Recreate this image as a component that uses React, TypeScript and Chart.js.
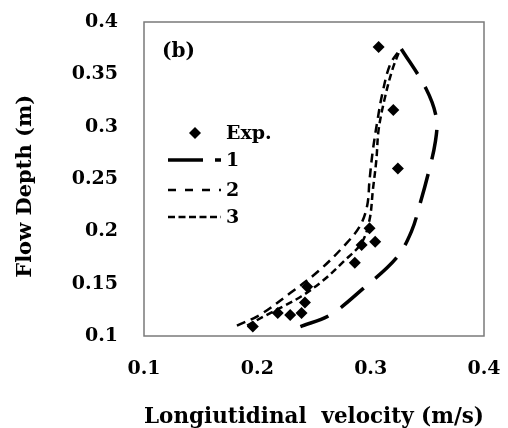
import { useEffect, useRef } from "react";
import { Chart, registerables } from "chart.js";

Chart.register(...registerables);

// ---- data ----
const expVelocity = [0.307, 0.32, 0.324, 0.299, 0.304, 0.292, 0.286, 0.244, 0.242, 0.239, 0.229, 0.218, 0.196];
const expDepth = [0.376, 0.316, 0.26, 0.203, 0.19, 0.187, 0.17, 0.147, 0.132, 0.122, 0.12, 0.122, 0.109];

const model1Velocity = [0.238, 0.264, 0.293, 0.323, 0.336, 0.344, 0.351, 0.357, 0.358, 0.349, 0.326];
const model1Depth = [0.109, 0.12, 0.145, 0.175, 0.2, 0.228, 0.256, 0.285, 0.308, 0.336, 0.376];

const model2Velocity = [0.182, 0.202, 0.229, 0.255, 0.279, 0.291, 0.297, 0.299, 0.302, 0.306, 0.31, 0.317, 0.326];
const model2Depth = [0.11, 0.12, 0.141, 0.163, 0.189, 0.206, 0.225, 0.249, 0.278, 0.306, 0.33, 0.359, 0.374];

const model3Velocity = [0.191, 0.208, 0.224, 0.239, 0.258, 0.276, 0.292, 0.299, 0.302, 0.305, 0.307, 0.312, 0.319, 0.326];
const model3Depth = [0.11, 0.12, 0.129, 0.138, 0.153, 0.171, 0.189, 0.211, 0.24, 0.268, 0.297, 0.325, 0.354, 0.374];

const xTicks = [0.1, 0.2, 0.3, 0.4];
const yTicks = [0.1, 0.15, 0.2, 0.25, 0.3, 0.35, 0.4];
const seriesLabels = ["Exp.", "1", "2", "3"];
const panelLabel = "(b)";
const xTitle = "Longiutidinal  velocity (m/s)";
const yTitle = "Flow Depth (m)  ";

const FONT = "'DejaVu Serif', serif";

const pts = (xs: number[], ys: number[]) => xs.map((x, i) => ({ x, y: ys[i] }));
const fmt = (v: number) => String(Number(v.toFixed(2)));

const framePlugin = {
  id: "frame",
  beforeDatasetsDraw(chart: any) {
    const { ctx, chartArea: a } = chart;
    ctx.save();
    ctx.strokeStyle = "#7a7a7a";
    ctx.lineWidth = 1.5;
    ctx.strokeRect(a.left, a.top, a.right - a.left, a.bottom - a.top);
    ctx.restore();
  },
};

const legendPlugin = {
  id: "insideLegend",
  afterDraw(chart: any) {
    const { ctx, chartArea: a } = chart;
    const ds = chart.data.datasets;
    ctx.save();
    ctx.fillStyle = "#000";
    ctx.font = `bold 20px ${FONT}`;
    ctx.textBaseline = "middle";
    ctx.textAlign = "left";
    ctx.fillText(panelLabel, a.left + 18, a.top + 30);

    ctx.font = `bold 19px ${FONT}`;
    const x0 = a.left + 24;
    const x1 = a.left + 77;
    const tx = a.left + 82;
    const ey = a.top + 111;
    const cx = a.left + 51;
    const r = 6;
    ctx.beginPath();
    ctx.moveTo(cx, ey - r);
    ctx.lineTo(cx + r, ey);
    ctx.lineTo(cx, ey + r);
    ctx.lineTo(cx - r, ey);
    ctx.closePath();
    ctx.fill();
    ctx.fillText(ds[0].label, tx, ey + 1);
    const rows = [a.top + 138, a.top + 168, a.top + 195];
    for (let i = 1; i < 4; i++) {
      const y = rows[i - 1];
      ctx.beginPath();
      ctx.setLineDash(ds[i].legendDash);
      ctx.lineWidth = ds[i].borderWidth;
      ctx.strokeStyle = "#000";
      ctx.moveTo(x0, y);
      ctx.lineTo(x1, y);
      ctx.stroke();
      ctx.setLineDash([]);
      ctx.fillText(ds[i].label, tx, y + 1);
    }
    ctx.restore();
  },
};

export default function App() {
  const ref = useRef<HTMLCanvasElement | null>(null);
  useEffect(() => {
    if (!ref.current) return;
    const chart = new Chart(ref.current, {
      type: "scatter",
      data: {
        datasets: [
          {
            label: seriesLabels[0],
            data: pts(expVelocity, expDepth),
            showLine: false,
            pointStyle: "rectRot",
            pointRadius: 6,
            backgroundColor: "#000",
            borderColor: "#000",
            borderWidth: 0,
            order: 0,
          } as any,
          {
            label: seriesLabels[1],
            data: pts(model1Velocity, model1Depth),
            showLine: true,
            pointRadius: 0,
            borderColor: "#000",
            borderWidth: 3.5,
            borderDash: [30, 15],
            legendDash: [35, 12],
            tension: 0.35,
            order: 1,
          } as any,
          {
            label: seriesLabels[2],
            data: pts(model2Velocity, model2Depth),
            showLine: true,
            pointRadius: 0,
            borderColor: "#000",
            borderWidth: 2.5,
            borderDash: [9, 6],
            legendDash: [8, 9],
            tension: 0.35,
            order: 2,
          } as any,
          {
            label: seriesLabels[3],
            data: pts(model3Velocity, model3Depth),
            showLine: true,
            pointRadius: 0,
            borderColor: "#000",
            borderWidth: 2.5,
            borderDash: [7, 4],
            legendDash: [7, 3.5],
            tension: 0.35,
            order: 3,
          } as any,
        ],
      },
      options: {
        responsive: false,
        animation: false,
        layout: { padding: { left: 0, right: 24, top: 22, bottom: 0 } },
        plugins: {
          legend: { display: false },
          tooltip: { enabled: false },
        },
        scales: {
          x: {
            type: "linear",
            min: 0.1,
            max: 0.4,
            afterBuildTicks: (s: any) => {
              s.ticks = xTicks.map((v) => ({ value: v }));
            },
            afterFit: (s: any) => {
              s.height = 92;
              s.paddingLeft = 0;
              s.paddingRight = 0;
            },
            grid: { display: false, drawTicks: false },
            border: { display: false },
            ticks: {
              color: "#000",
              padding: 22,
              maxRotation: 0,
              font: { family: FONT, size: 19, weight: "bold" },
              callback: (v: any) => fmt(Number(v)),
            },
            title: {
              display: true,
              text: xTitle,
              color: "#000",
              padding: { top: 0, bottom: -3 },
              font: { family: FONT, size: 23, weight: "bold" },
            },
          },
          y: {
            type: "linear",
            min: 0.1,
            max: 0.4,
            afterBuildTicks: (s: any) => {
              s.ticks = yTicks.map((v) => ({ value: v }));
            },
            afterFit: (s: any) => {
              s.width = 144;
              s.paddingTop = 0;
              s.paddingBottom = 0;
            },
            grid: { display: false, drawTicks: false },
            border: { display: false },
            ticks: {
              color: "#000",
              padding: 26,
              font: { family: FONT, size: 19, weight: "bold" },
              callback: (v: any) => fmt(Number(v)),
            },
            title: {
              display: true,
              text: yTitle,
              color: "#000",
              padding: { top: 13, bottom: 0 },
              font: { family: FONT, size: 21, weight: "bold" },
            },
          },
        },
      } as any,
      plugins: [framePlugin, legendPlugin],
    });
    return () => chart.destroy();
  }, []);
  return (
    <canvas
      ref={ref}
      width={508}
      height={428}
      style={{ position: "absolute", left: 0, top: 0, width: 508, height: 428 }}
    />
  );
}
